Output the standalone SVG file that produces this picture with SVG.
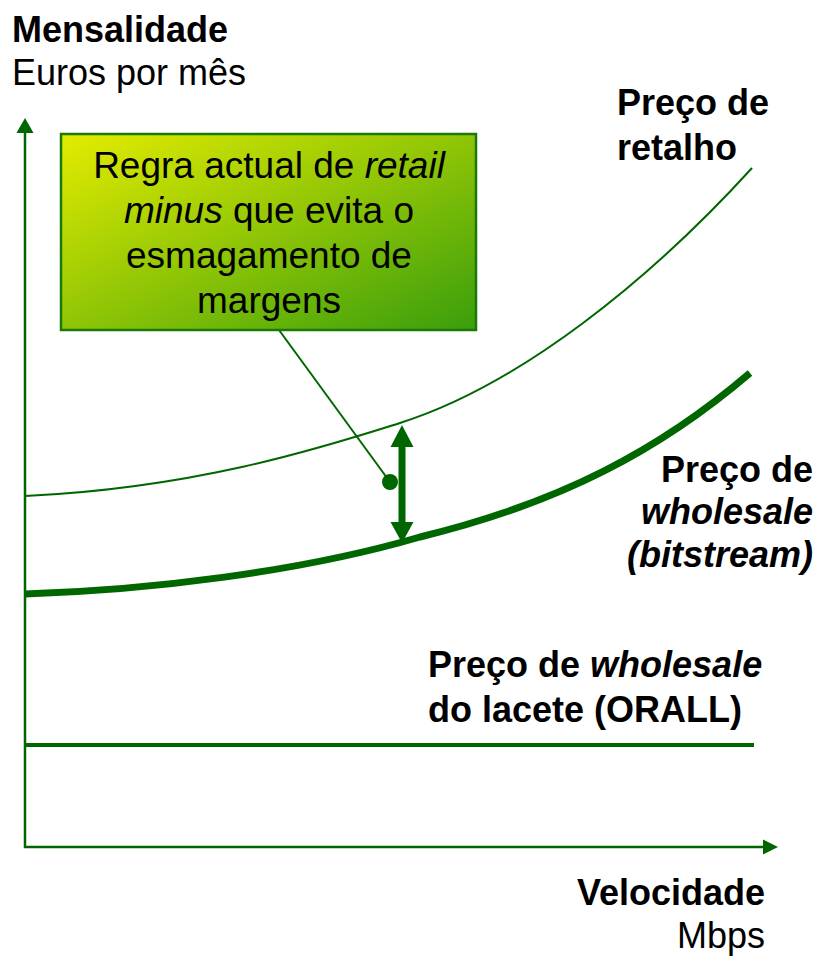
<svg xmlns="http://www.w3.org/2000/svg" width="821" height="956" viewBox="0 0 821 956">
<defs>
<linearGradient id="boxGrad" x1="0" y1="0" x2="1" y2="1">
<stop offset="0" stop-color="#e4ec00"/>
<stop offset="1" stop-color="#3a9e0c"/>
</linearGradient>
<style>
text{font-family:"Liberation Sans",Arial,sans-serif;font-size:36px;fill:#000}
.b{font-weight:bold}
.i{font-style:italic}
.bx{font-size:37px}
.g{fill:none;stroke:#006600}
</style>
</defs>
<rect width="821" height="956" fill="#fff"/>
<g id="axes">
<line class="g" x1="25" y1="848" x2="25" y2="132" stroke-width="2.5"/>
<polygon points="25,118 16.5,133 33.5,133" fill="#006600"/>
<line class="g" x1="24" y1="847" x2="764" y2="847" stroke-width="2.5"/>
<polygon points="778,847 763,839.5 763,854.5" fill="#006600"/>
</g>
<g id="connectors">
<path id="retail-curve" class="g" stroke-width="2" d="M25,496 C200,488 330,445 400,423 C520,385 650,280 752,168"/>
<path id="bitstream-curve" class="g" stroke-width="7" d="M25,594 C150,590 300,572 420,537 C560,503 660,450 750,373"/>
<line id="orall-line" class="g" stroke-width="4" x1="25" y1="745" x2="754" y2="745"/>
<g id="margin-arrow">
<line class="g" stroke-width="7" x1="402" y1="445" x2="402" y2="525"/>
<polygon points="402,425 390.5,447 413.5,447" fill="#006600"/>
<polygon points="402,543 390.5,522 413.5,522" fill="#006600"/>
</g>
<line id="leader" class="g" stroke-width="2" x1="279" y1="330" x2="390" y2="482"/>
<circle cx="390" cy="482" r="8" fill="#006600"/>
</g>
<g id="box-rule">
<rect x="61" y="134" width="415" height="196" fill="url(#boxGrad)" stroke="#1a7a06" stroke-width="2.5"/>
<text class="bx" x="269" y="178" text-anchor="middle">Regra actual de <tspan class="i">retail</tspan></text>
<text class="bx" x="269" y="223" text-anchor="middle"><tspan class="i">minus</tspan> que evita o</text>
<text class="bx" x="269" y="268" text-anchor="middle">esmagamento de</text>
<text class="bx" x="269" y="313" text-anchor="middle">margens</text>
</g>
<g id="y-label">
<text class="b" x="12" y="42">Mensalidade</text>
<text x="12" y="85">Euros por mês</text>
</g>
<g id="x-label">
<text class="b" x="765" y="905" text-anchor="end">Velocidade</text>
<text x="765" y="948" text-anchor="end">Mbps</text>
</g>
<g id="label-retail">
<text class="b" x="617" y="115">Preço de</text>
<text class="b" x="617" y="160">retalho</text>
</g>
<g id="label-bitstream">
<text class="b" x="813" y="482" text-anchor="end">Preço de</text>
<text class="b i" x="813" y="524" text-anchor="end">wholesale</text>
<text class="b i" x="813" y="567" text-anchor="end">(bitstream)</text>
</g>
<g id="label-orall">
<text class="b" x="428" y="677">Preço de <tspan class="i">wholesale</tspan></text>
<text class="b" x="428" y="722">do lacete (ORALL)</text>
</g>
</svg>
